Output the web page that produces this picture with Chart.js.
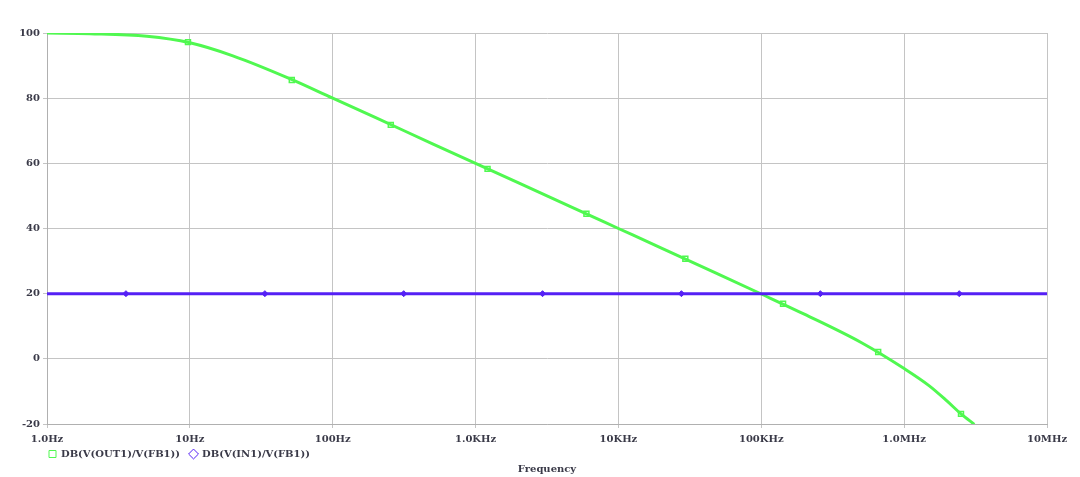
<!DOCTYPE html>
<html>
<head>
<meta charset="utf-8">
<script src="https://cdn.jsdelivr.net/npm/chart.js@4/dist/chart.umd.min.js"></script>
<style>
html,body{margin:0;padding:0;background:#fff;}
#wrap{width:1080px;height:477px;}
</style>
</head>
<body>
<div id="wrap"><canvas id="c" width="1080" height="477"></canvas></div>
<script>
// ---- data ----
const decadeTicks = [1, 10, 100, 1e3, 1e4, 1e5, 1e6, 1e7];
const tickLabels = ['1.0Hz', '10Hz', '100Hz', '1.0KHz', '10KHz', '100KHz', '1.0MHz', '10MHz'];
const yTicks = [-20, 0, 20, 40, 60, 80, 100];

const outLabel = 'DB(V(OUT1)/V(FB1))';
const outFreq = [1, 2, 5, 10, 20, 50, 100, 200, 500, 1e3, 2e3, 5e3, 1e4, 2e4, 5e4, 1e5, 2e5, 5e5, 1e6, 1.5e6, 2e6, 2.5e6, 3.1e6];
const outDb   = [100, 99.8, 99.0, 97.0, 93.0, 86.0, 80.0, 74.0, 66.0, 60.0, 54.0, 46.0, 40.0, 34.0, 26.0, 19.9, 13.7, 5.0, -3.0, -8.3, -13.0, -16.9, -20.1];
const outMarkerFreq = [9.7, 51.7, 255, 1213, 5970, 29400, 142000, 658000, 2500000];
const outMarkerDb   = [97.2, 85.6, 71.8, 58.3, 44.5, 30.7, 16.9, 2.1, -16.9];

const inLabel = 'DB(V(IN1)/V(FB1))';
const inFreq = [1, 1e7];
const inDb   = [20, 20];
const inMarkerFreq = [3.57, 33.5, 314, 2943, 27600, 259000, 2430000];
const inMarkerDb   = [20, 20, 20, 20, 20, 20, 20];

// ---- styles ----
const GREEN = '#50f850';
const PURPLE = '#5520f5';
const TEXT = '#3a3a48';
const GRID = '#c4c4c4';
const FONT = {family: '"DejaVu Serif", "Liberation Serif", serif', size: 10, weight: 'bold'};
const LEGEND_PAD = 10;

const pts = (xs, ys) => xs.map((x, i) => ({x: x, y: ys[i]}));

const shiftBoxes = {
  id: 'shiftBoxes',
  beforeLayout(chart) {
    const lg = chart.legend;
    if (lg && !lg._patched) {
      const orig = lg.fit.bind(lg);
      lg.fit = function() { orig(); this.height = 22; };
      lg._patched = true;
    }
  },
  afterLayout(chart) {
    const ca = chart.chartArea;
    const lg = chart.legend;
    if (lg) {
      lg.left = ca.left + 2 - LEGEND_PAD;
      lg.top = ca.bottom + 30 - LEGEND_PAD - 5;
      lg.bottom = lg.top + 40;
    }
    if (chart.titleBlock) { chart.titleBlock.left = ca.left; chart.titleBlock.right = ca.right; }
  }
};

new Chart(document.getElementById('c'), {
  type: 'line',
  data: {
    datasets: [
      {label: '', data: pts(inFreq, inDb), borderColor: PURPLE, borderWidth: 3, pointRadius: 0, fill: false, order: 2},
      {label: inLabel, data: pts(inMarkerFreq, inMarkerDb), showLine: false, pointStyle: 'rectRot', pointRadius: 3, backgroundColor: PURPLE, borderColor: PURPLE, borderWidth: 1, order: 1},
      {label: '', data: pts(outFreq, outDb), borderColor: GREEN, borderWidth: 3, pointRadius: 0, fill: false, cubicInterpolationMode: 'monotone', order: 4},
      {label: outLabel, data: pts(outMarkerFreq, outMarkerDb), showLine: false, pointStyle: 'rect', pointRadius: 3.5, backgroundColor: 'rgba(255,255,255,0)', borderColor: GREEN, borderWidth: 1.5, order: 3}
    ]
  },
  plugins: [shiftBoxes],
  options: {
    responsive: false,
    animation: false,
    events: [],
    layout: {padding: {top: 33, right: 33, left: 0, bottom: 0}},
    scales: {
      x: {
        type: 'logarithmic',
        min: 1, max: 1e7,
        afterBuildTicks: (s) => { s.ticks = decadeTicks.map(v => ({value: v})); },
        afterFit: (s) => { s.height = 22; },
        ticks: {
          autoSkip: false, maxRotation: 0, padding: 5, color: TEXT, font: FONT,
          callback: function(v) { const i = decadeTicks.indexOf(v); return i >= 0 ? tickLabels[i] : ''; }
        },
        grid: {color: GRID, lineWidth: 1, tickLength: 4, drawTicks: true},
        border: {color: '#b0b0b0'}
      },
      y: {
        min: -20, max: 100,
        afterBuildTicks: (s) => { s.ticks = yTicks.map(v => ({value: v})); },
        afterFit: (s) => { s.width = 47; },
        ticks: {padding: 3, color: TEXT, font: FONT},
        grid: {color: GRID, lineWidth: 1, tickLength: 4},
        border: {color: '#b0b0b0'}
      }
    },
    plugins: {
      tooltip: {enabled: false},
      legend: {
        position: 'bottom', align: 'start',
        labels: {
          color: TEXT, font: FONT, boxWidth: 7, boxHeight: 7, padding: LEGEND_PAD, usePointStyle: true,
          generateLabels: (chart) => [
            {text: outLabel, pointStyle: 'rect', fillStyle: '#fff', strokeStyle: GREEN, lineWidth: 1, fontColor: TEXT, datasetIndex: 3},
            {text: inLabel, pointStyle: 'rectRot', fillStyle: '#fff', strokeStyle: PURPLE, lineWidth: 1, fontColor: TEXT, datasetIndex: 1}
          ]
        }
      },
      title: {
        display: true, position: 'bottom', text: 'Frequency', color: TEXT, font: FONT,
        padding: {top: -5, bottom: 2}
      }
    }
  }
});
</script>
</body>
</html>
